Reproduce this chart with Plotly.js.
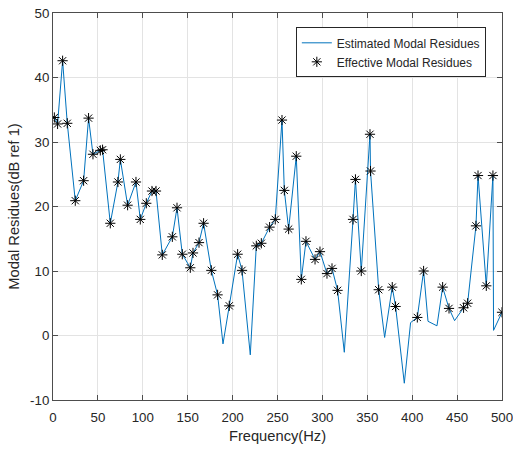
<!DOCTYPE html>
<html>
<head>
<meta charset="utf-8">
<script src="https://cdn.plot.ly/plotly-3.0.1.min.js"></script>
<style>html,body{margin:0;padding:0;background:#fff;}#chart{width:513px;height:451px;}</style>
</head>
<body>
<div id="chart"></div>
<script>
// Estimated modal residues (line): frequency (Hz) and level (dB ref 1)
const freqEstimated = [1.5, 5.1, 10.7, 15.9, 24.8, 34.1, 39.6, 44.5, 52.7, 55.2,
  63.8, 72.3, 75.0, 83.1, 92.4, 97.2, 103.9, 110.2, 114.7, 121.7,
  132.9, 138.1, 144.0, 152.9, 155.9, 162.6, 167.7, 176.3, 183.3, 189.3,
  196.3, 205.6, 210.5, 219.7, 226.4, 232.0, 241.2, 247.5, 255.0, 257.6,
  262.4, 270.9, 276.5, 281.7, 291.8, 297.3, 305.1, 310.7, 316.9, 324.4,
  334.1, 336.8, 343.3, 353.0, 353.6, 362.7, 369.3, 377.8, 381.5, 391.2,
  398.2, 405.7, 412.7, 417.6, 427.6, 433.9, 441.0, 447.2, 457.2, 461.7,
  471.0, 473.3, 482.5, 489.9, 490.6, 500.0];
const residEstimated = [33.8, 32.8, 42.6, 32.9, 20.9, 24.0, 33.7, 28.1, 28.7, 28.8,
  17.4, 23.8, 27.3, 20.2, 23.8, 18.0, 20.5, 22.4, 22.4, 12.5,
  15.3, 19.8, 12.6, 10.5, 12.8, 14.4, 17.4, 10.1, 6.3, -1.3,
  4.6, 12.6, 10.1, -3.0, 13.9, 14.3, 16.8, 18.0, 33.4, 22.5,
  16.5, 27.8, 8.7, 14.6, 11.8, 13.0, 9.6, 10.4, 7.0, -2.6,
  18.0, 24.2, 10.0, 31.2, 25.5, 7.1, -0.3, 7.5, 4.5, -7.4,
  2.0, 2.8, 10.0, 2.2, 1.5, 7.5, 4.2, 2.3, 4.3, 5.0,
  17.0, 24.8, 7.7, 24.8, 0.8, 3.6];

// Effective modal residues (markers)
const freqEffective = [1.5, 5.1, 10.7, 15.9, 24.8, 34.1, 39.6, 44.5, 52.7, 55.2,
  63.8, 72.3, 75.0, 83.1, 92.4, 97.2, 103.9, 110.2, 114.7, 121.7,
  132.9, 138.1, 144.0, 152.9, 155.9, 162.6, 167.7, 176.3, 183.3,
  196.3, 205.6, 210.5, 226.4, 232.0, 241.2, 247.5, 255.0, 257.6,
  262.4, 270.9, 276.5, 281.7, 291.8, 297.3, 305.1, 310.7, 316.9,
  334.1, 336.8, 343.3, 353.0, 353.6, 362.7, 377.8, 381.5,
  405.7, 412.7, 433.9, 441.0, 457.2, 461.7,
  471.0, 473.3, 482.5, 489.9, 500.0];
const residEffective = [33.8, 32.8, 42.6, 32.9, 20.9, 24.0, 33.7, 28.1, 28.7, 28.8,
  17.4, 23.8, 27.3, 20.2, 23.8, 18.0, 20.5, 22.4, 22.4, 12.5,
  15.3, 19.8, 12.6, 10.5, 12.8, 14.4, 17.4, 10.1, 6.3,
  4.6, 12.6, 10.1, 13.9, 14.3, 16.8, 18.0, 33.4, 22.5,
  16.5, 27.8, 8.7, 14.6, 11.8, 13.0, 9.6, 10.4, 7.0,
  18.0, 24.2, 10.0, 31.2, 25.5, 7.1, 7.5, 4.5,
  2.8, 10.0, 7.5, 4.2, 4.3, 5.0,
  17.0, 24.8, 7.7, 24.8, 3.6];

const xTicks = [0, 50, 100, 150, 200, 250, 300, 350, 400, 450, 500];
const yTicks = [-10, 0, 10, 20, 30, 40, 50];

const FONT = '"Liberation Sans", Arial, Helvetica, sans-serif';
const AX = '#262626';

const traces = [
  {
    x: freqEstimated, y: residEstimated, type: 'scatter', mode: 'lines',
    name: 'Estimated Modal Residues',
    line: {color: '#0072BD', width: 1}
  },
  {
    x: freqEffective, y: residEffective, type: 'scatter', mode: 'markers',
    name: 'Effective Modal Residues',
    marker: {symbol: 'asterisk-open', size: 8.5, color: '#000', line: {color: '#1a1a1a', width: 1}}
  }
];

const axisCommon = {
  showgrid: true, gridcolor: '#e3e3e3', gridwidth: 1,
  zeroline: false,
  showline: true, linecolor: '#4d4d4d', linewidth: 1, mirror: 'ticks',
  ticks: 'inside', ticklen: 5, tickcolor: '#4d4d4d', tickwidth: 1,
  ticklabeloverflow: 'allow',
  tickfont: {family: FONT, size: 13.3, color: AX}
};

const layout = {
  width: 513, height: 451,
  margin: {l: 53, r: 11, t: 12.5, b: 51},
  paper_bgcolor: '#fff', plot_bgcolor: '#fff',
  showlegend: true,
  xaxis: Object.assign({}, axisCommon, {
    range: [0, 500], tickvals: xTicks, ticktext: xTicks.map(String),
    ticklabelstandoff: 5,
    title: {text: 'Frequency(Hz)', font: {family: FONT, size: 14.7, color: AX}, standoff: 6}
  }),
  yaxis: Object.assign({}, axisCommon, {
    range: [-10, 50], tickvals: yTicks, ticktext: yTicks.map(String),
    title: {text: 'Modal Residues(dB ref 1)', font: {family: FONT, size: 14.7, color: AX}, standoff: 6}
  }),
  legend: {
    x: 0.964, xanchor: 'right', y: 0.963, yanchor: 'top',
    bgcolor: '#fff', bordercolor: AX, borderwidth: 1,
    font: {family: FONT, size: 12, color: AX},
    tracegroupgap: 0
  }
};

Plotly.newPlot('chart', traces, layout, {displayModeBar: false, staticPlot: true});
</script>
</body>
</html>
